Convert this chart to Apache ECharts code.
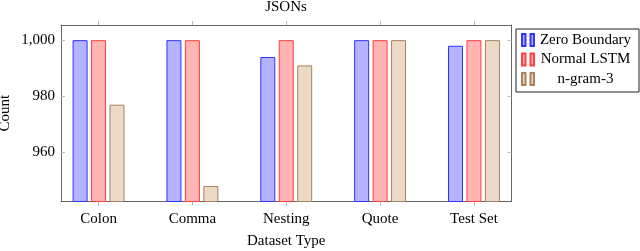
<!DOCTYPE html>
<html>
<head>
<meta charset="utf-8">
<script src="https://cdn.jsdelivr.net/npm/echarts@6/dist/echarts.min.js"></script>
<style>html,body{margin:0;padding:0;background:#fff}#c{width:640px;height:251px}</style>
</head>
<body>
<div id="c"></div>
<script>
const categories = ['Colon', 'Comma', 'Nesting', 'Quote', 'Test Set'];
const zeroBoundary = [1000, 1000, 994, 1000, 998];
const normalLSTM = [1000, 1000, 1000, 1000, 1000];
const ngram3 = [977, 948, 991, 1000, 1000];
const yTicks = [960, 980, 1000];
const seriesNames = ['Zero Boundary', 'Normal LSTM', 'n-gram-3'];

const FONT = 'Liberation Serif';
const idx = categories.map((_, i) => i);
const toPairs = arr => arr.map((v, i) => [i, v]);

const styles = [
  { color: '#b3b3ff', borderColor: '#3333ff' },
  { color: '#ffb3b3', borderColor: '#ff4040' },
  { color: '#ecdac6', borderColor: '#a6825e' }
];
const dataSets = [zeroBoundary, normalLSTM, ngram3];

const chart = echarts.init(document.getElementById('c'), null, { renderer: 'canvas' });
chart.setOption({
  animation: false,
  textStyle: { fontFamily: FONT },
  title: {
    text: 'JSONs', left: 286, top: 0, padding: 0, textAlign: 'center',
    textStyle: { fontFamily: FONT, fontSize: 15, fontWeight: 'normal', color: '#000' }
  },
  grid: { left: 61, right: 128.5, top: 25, bottom: 49.5, containLabel: false, outerBoundsMode: 'none' },
  legend: {
    orient: 'vertical', left: 516, top: 29,
    padding: [3.5, 7, 5.5, 5],
    borderColor: '#222', borderWidth: 1,
    itemWidth: 12, itemHeight: 12, itemGap: 4.5,
    icon: 'path://M0,0H3.5V12H0Z M8.5,0H12V12H8.5Z',
    data: seriesNames,
    formatter: n => '{t|' + n + '}',
    textStyle: {
      fontFamily: FONT, fontSize: 15, color: '#000', padding: [0, 0, 0, 0],
      rich: { t: { width: 93, align: 'center', fontFamily: FONT, fontSize: 15, lineHeight: 15 } }
    }
  },
  xAxis: [{
    type: 'value', min: -0.4, max: 4.4, position: 'bottom',
    name: 'Dataset Type', nameLocation: 'middle', nameGap: 32, nameMoveOverlap: false,
    nameTextStyle: { fontFamily: FONT, fontSize: 15, color: '#000' },
    axisLine: { show: true, onZero: false, lineStyle: { color: '#666', width: 1 } },
    axisTick: { show: true, inside: false, length: 4, customValues: idx, lineStyle: { color: '#bbb' } },
    axisLabel: { customValues: idx, formatter: v => categories[Math.round(v)], fontFamily: FONT, fontSize: 15, color: '#000', margin: 10 },
    splitLine: { show: false }
  }, {
    type: 'value', min: -0.4, max: 4.4, position: 'top',
    axisLine: { show: true, onZero: false, lineStyle: { color: '#666', width: 1 } },
    axisTick: { show: true, inside: false, length: 4, customValues: idx, lineStyle: { color: '#bbb' } },
    axisLabel: { show: false },
    splitLine: { show: false }
  }],
  yAxis: [{
    type: 'value', min: 942.5, max: 1005.4, position: 'left',
    name: 'Count', nameLocation: 'middle', nameGap: 48, nameMoveOverlap: false,
    nameTextStyle: { fontFamily: FONT, fontSize: 15, color: '#000' },
    axisLine: { show: true, onZero: false, lineStyle: { color: '#666', width: 1 } },
    axisTick: { show: true, inside: true, length: 4, customValues: yTicks, lineStyle: { color: '#bbb' } },
    axisLabel: { customValues: yTicks, formatter: v => v.toLocaleString('en-US'), fontFamily: FONT, fontSize: 15, color: '#000', margin: 6 },
    splitLine: { show: false }
  }, {
    type: 'value', min: 942.5, max: 1005.4, position: 'right',
    axisLine: { show: true, onZero: false, lineStyle: { color: '#666', width: 1 } },
    axisTick: { show: true, inside: true, length: 4, customValues: yTicks, lineStyle: { color: '#bbb' } },
    axisLabel: { show: false },
    splitLine: { show: false }
  }],
  series: dataSets.map((d, i) => ({
    name: seriesNames[i], type: 'bar', xAxisIndex: 0, yAxisIndex: 0,
    data: toPairs(d), barWidth: 15, barGap: '23%',
    itemStyle: { color: styles[i].color, borderColor: styles[i].borderColor, borderWidth: 1 }
  }))
});
</script>
</body>
</html>
